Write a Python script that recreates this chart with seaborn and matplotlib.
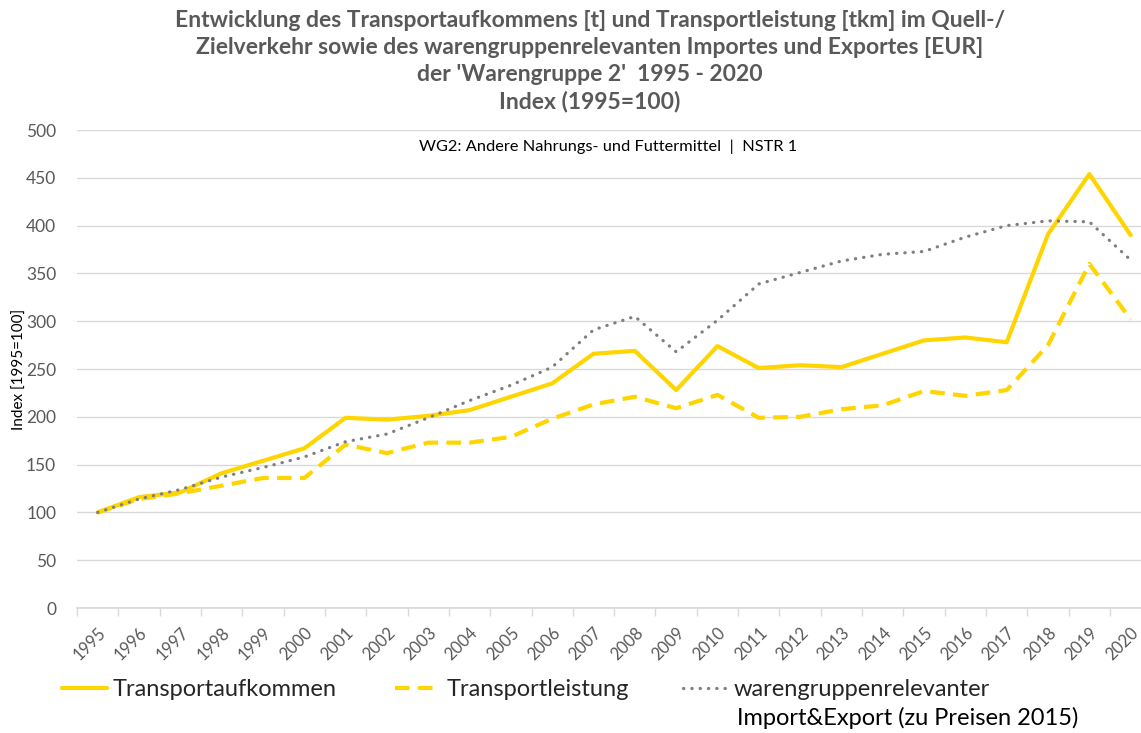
import numpy as np
import pandas as pd
import seaborn as sns
import matplotlib.pyplot as plt
from matplotlib.lines import Line2D

years = [str(y) for y in range(1995, 2021)]
transportaufkommen = [100, 116, 121, 141, 154, 167, 199, 197, 201, 207, 221, 235, 266, 269,
                      228, 274, 251, 254, 252, 266, 280, 283, 278, 391, 454, 390]
transportleistung = [100, 114, 120, 128, 136, 136, 171, 162, 173, 173, 179, 198, 213, 221,
                     209, 223, 199, 200, 208, 212, 227, 222, 228, 275, 360, 302]
import_export = [100, 114, 124, 137, 147, 158, 174, 182, 199, 217, 233, 252, 291, 305,
                 268, 301, 339, 351, 363, 370, 373, 388, 400, 405, 404, 364]

sns.set_theme(style="white")
plt.rcParams['font.family'] = ['Lato', 'DejaVu Sans']

yellow = '#FFD500'
grey = '#7F7F7F'
txt = '#595959'

fig = plt.figure(figsize=(11.41, 7.33), dpi=100)
ax = fig.add_axes([0.0675, 0.1705, 0.9325, 0.6521])

x = np.arange(len(years))
sns.lineplot(x=x, y=transportaufkommen, ax=ax, color=yellow, lw=3)
l2 = sns.lineplot(x=x, y=transportleistung, ax=ax, color=yellow, lw=3)
l2.lines[-1].set_dashes([3.5, 2])
l3 = sns.lineplot(x=x, y=import_export, ax=ax, color=grey, lw=2.3)
l3.lines[-1].set_dashes([0.1, 2.5])
l3.lines[-1].set_dash_capstyle('round')

ax.set_xlim(-0.5, 25.25)
ax.set_ylim(0, 500)
ax.set_yticks(range(0, 501, 50))
ax.yaxis.grid(True, color='#D9D9D9', lw=1)
ax.set_axisbelow(True)
for s in ['top', 'right', 'left']:
    ax.spines[s].set_visible(False)
ax.spines['bottom'].set_color('#D9D9D9')
ax.set_xticks(x)
ax.set_xticklabels(years, rotation=45, ha='right', rotation_mode='anchor')
ax.set_xticks(np.arange(-0.5, 25.5, 1), minor=True)
ax.tick_params(axis='x', which='major', length=0, labelsize=12, labelcolor=txt, pad=12)
ax.tick_params(axis='x', which='minor', length=6, color='#D9D9D9', width=1, bottom=True)
ax.tick_params(axis='y', length=0, labelsize=12.5, labelcolor=txt, pad=15)
ax.set_ylabel('Index [1995=100]', fontsize=11, color='black')
ax.yaxis.set_label_coords(-0.047, 0.5)

fig.text(0.517, 0.986,
         "Entwicklung des Transportaufkommens [t] und Transportleistung [tkm] im Quell-/\n"
         "Zielverkehr sowie des warengruppenrelevanten Importes und Exportes [EUR]\n"
         "der 'Warengruppe 2'  1995 - 2020\n"
         "Index (1995=100)",
         ha='center', va='top', fontsize=16.5, fontweight='bold', color=txt, linespacing=1.34)
fig.text(0.533, 0.800, 'WG2: Andere Nahrungs- und Futtermittel  |  NSTR 1',
         ha='center', va='center', fontsize=11.8, color='black')

h1 = Line2D([], [], color=yellow, lw=3)
h2 = Line2D([], [], color=yellow, lw=3, dashes=[3.5, 2])
h3 = Line2D([], [], color=grey, lw=2.3, dashes=[0.1, 2.5], dash_capstyle='round')
kw = dict(frameon=False, fontsize=17, handlelength=1.9, handletextpad=0.25, loc='center left')
fig.legend([h1], ['Transportaufkommen'], bbox_to_anchor=(0.036, 0.059), **kw)
fig.legend([h2], ['Transportleistung'], bbox_to_anchor=(0.328, 0.059), **kw)
fig.legend([h3], ['warengruppenrelevanter'], bbox_to_anchor=(0.580, 0.059), **kw)
fig.text(0.646, 0.020, 'Import&Export (zu Preisen 2015)', fontsize=17, color='black',
         ha='left', va='center')

fig.savefig('out.png', dpi=100)
